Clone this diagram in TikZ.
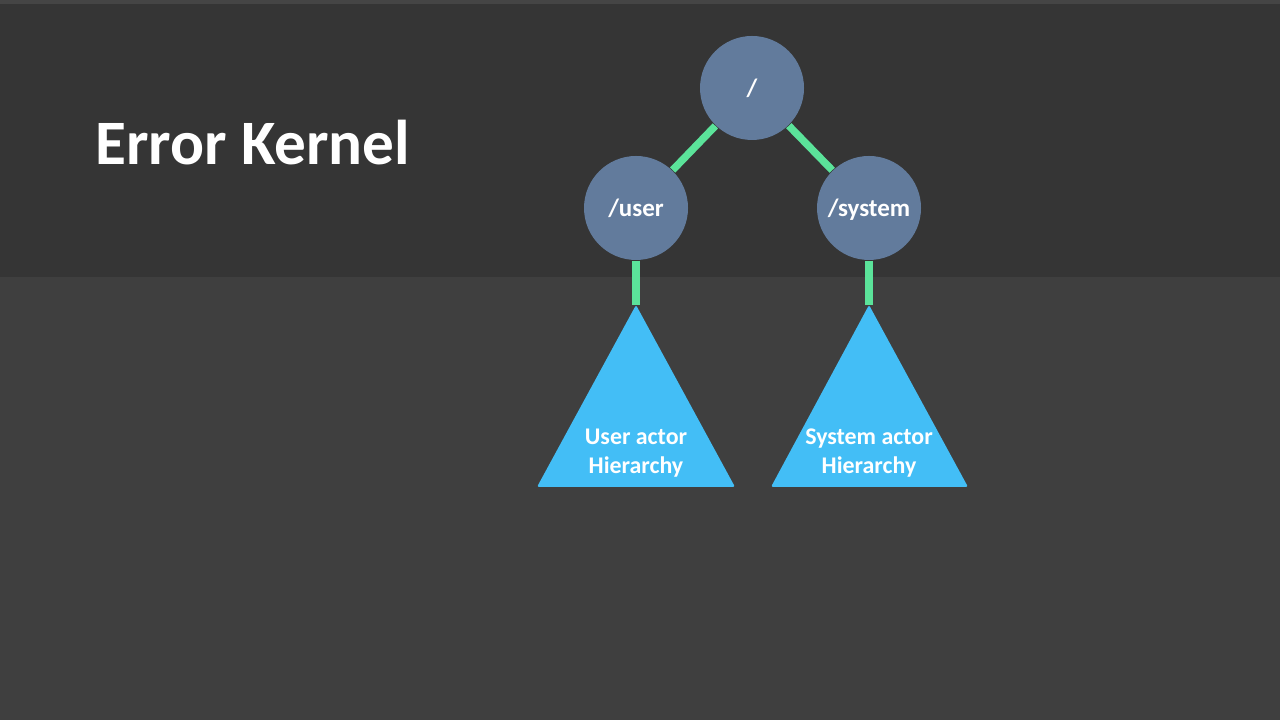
\documentclass[tikz,border=0pt]{standalone}
\usepackage{fontspec}
\setmainfont{Carlito}
\usetikzlibrary{positioning}

\definecolor{bandtop}{HTML}{353535}
\definecolor{bandline}{HTML}{454545}
\definecolor{slidebg}{HTML}{3F3F3F}
\definecolor{pathnode}{HTML}{627B9C}
\definecolor{treeblue}{HTML}{43BEF6}
\definecolor{linkgreen}{HTML}{5BE39A}

\tikzset{
    path/.style={circle, fill=pathnode, minimum size=1.04cm, inner sep=0pt,
        text height=6pt, text depth=1.2pt,
        text=white, font=\bfseries\fontsize{7.1}{8}\selectfont},
    link/.style={linkgreen, line width=2.1pt},
    subtree/.style={fill=treeblue, rounded corners=0.6pt},
    treelabel/.style={text=white, align=center, font=\bfseries\fontsize{6.8}{8.2}\selectfont}
}

\begin{document}
\begin{tikzpicture}
    % background
    \fill[slidebg] (0,0) rectangle (12.8,7.2);
    \fill[bandtop] (0,4.43) rectangle (12.8,7.2);
    \fill[bandline] (0,7.16) rectangle (12.8,7.2);
    \useasboundingbox (0,0) rectangle (12.8,7.2);

    \node[text=white, font=\bfseries\fontsize{18}{20}\selectfont, anchor=west]
        (title) at (0.83,5.77) {Error Kernel};

    % actor paths
    \node[path] (root) at (7.52,6.32) {/};
    \node[path] (user) at (6.36,5.12) {/user};
    \node[path] (system) at (8.69,5.12) {/system};

    % sub hierarchies
    \coordinate (usertop) at (6.36,4.15);
    \coordinate (systemtop) at (8.69,4.15);
    \fill[subtree] (usertop) -- (7.35,2.33) -- (5.37,2.33) -- cycle;
    \fill[subtree] (systemtop) -- (9.68,2.33) -- (7.71,2.33) -- cycle;
    \node[treelabel] (userlbl) at (6.36,2.67) {User actor\\Hierarchy};
    \node[treelabel] (systemlbl) at (8.69,2.67) {System actor\\Hierarchy};

    \draw[link] (root) -- (user);
    \draw[link] (root) -- (system);
    \draw[link] (user) -- (usertop);
    \draw[link] (system) -- (systemtop);
\end{tikzpicture}
\end{document}
